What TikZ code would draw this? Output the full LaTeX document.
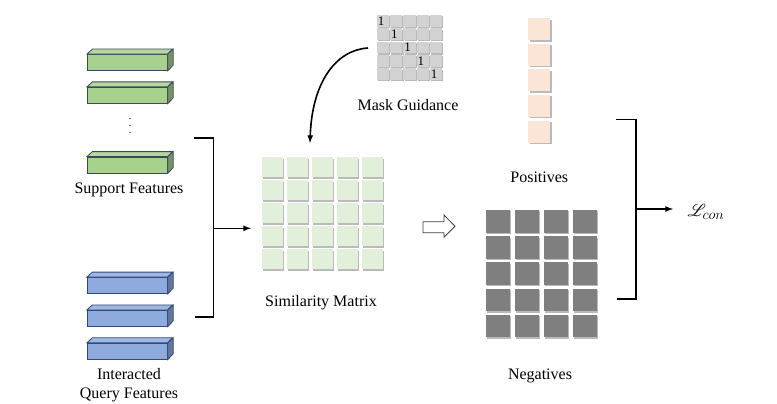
\documentclass[tikz,border=0pt]{standalone}
\usepackage{fontspec}
\setmainfont{Liberation Serif}
\usepackage{mathrsfs}
\usepackage{tikz}
\usetikzlibrary{arrows,shadows,positioning}

\definecolor{supGreen}{HTML}{A9D18E}
\definecolor{qryBlue}{HTML}{8FAADC}
\definecolor{supEdge}{HTML}{3A4A5C}
\definecolor{qryEdge}{HTML}{2F4A7A}
\definecolor{simGreen}{HTML}{E2EFDA}
\definecolor{posPink}{HTML}{FBE5D6}
\definecolor{maskGray}{HTML}{D2D2D2}
\definecolor{negGray}{HTML}{7F7F7F}

\begin{document}
\begin{tikzpicture}[x=1pt, y=-1pt, font=\fontsize{16}{19}\selectfont,
	bar/.style={draw, line width=0.8pt, minimum width=80pt, minimum height=16pt, inner sep=0pt},
	cell/.style={inner sep=0pt, drop shadow={shadow xshift=1.3pt, shadow yshift=-1.3pt, fill=black!60, opacity=0.45}},
	brace/.style={line width=1.6pt},
	conn/.style={-latex, line width=1.6pt}]
	\useasboundingbox (0,0) rectangle (777,404);

	% support features
	\foreach \n/\y in {1/62.5, 2/95.3, 3/165} {
		\node (s\n) [bar, draw=supEdge, fill=supGreen] at (127.3,\y) {};
		\draw [supEdge, line width=0.8pt, fill=supGreen!85!white] (s\n.north west) -- ++(5.5,-5) -- ++(80,0) -- (s\n.north east) -- cycle;
		\draw [supEdge, line width=0.8pt, fill=supGreen!70!black] (s\n.north east) -- ++(5.5,-5) -- ++(0,16) -- (s\n.south east) -- cycle;
	}
	\foreach \k/\y in {1/118.5, 2/125.5, 3/132.5}
		\fill [black!65] (130,\y) circle (0.8pt) coordinate (dot\k);
	\node (slab) at (129,190) {Support Features};

	% query features
	\foreach \n/\y in {1/285.5, 2/318.3, 3/351.2} {
		\node (q\n) [bar, draw=qryEdge, fill=qryBlue] at (127.3,\y) {};
		\draw [qryEdge, line width=0.8pt, fill=qryBlue!85!white] (q\n.north west) -- ++(5.5,-5) -- ++(80,0) -- (q\n.north east) -- cycle;
		\draw [qryEdge, line width=0.8pt, fill=qryBlue!70!black] (q\n.north east) -- ++(5.5,-5) -- ++(0,16) -- (q\n.south east) -- cycle;
	}
	\node (qlab) [align=center] at (129,385) {Interacted\\Query Features};

	% left bracket
	\draw [brace] (194,137.7) -| (213.5,316.7) -- (195,316.7);
	\coordinate (lbr) at (213.5,228.3);
	\coordinate (simin) at (251,228.3);
	\draw [conn] (lbr) -- (simin);

	% similarity matrix
	\foreach \i in {0,...,4}
		\foreach \j in {0,...,4}
			\node (sim-\i-\j) [cell, fill=simGreen, minimum width=21pt, minimum height=20pt] at (272.5+25*\i, 167.3+23*\j) {};
	\node (simlab) at (321,303) {Similarity Matrix};

	% mask guidance
	\foreach \i in {0,...,4}
		\foreach \j in {0,...,4}
			\node (m-\i-\j) [cell, fill=maskGray, minimum width=12.3pt, minimum height=11.7pt] at (382.8+13.3*\i, 20.9+13.3*\j) {};
	\foreach \i in {0,...,4}
		\node [font=\fontsize{13}{13}\selectfont, inner sep=0pt] at ([xshift=-1.8pt]m-\i-\i.center) {1};
	\node (mlab) at (408,105) {Mask Guidance};
	\coordinate (mout) at (368,48);
	\coordinate (simtop) at (310,143);
	\draw [conn] (mout) .. controls (336,50) and (312,82) .. (simtop);

	% hollow arrow
	\draw [line width=0.8pt, draw=black!75, fill=white] (423,221.7) -- (444,221.7) -- (444,215) -- (455,226.3) -- (444,237.3) -- (444,232.7) -- (423,232.7) -- cycle;

	% positives
	\foreach \j in {0,...,4}
		\node (p-\j) [cell, fill=posPink, minimum width=22pt, minimum height=22pt] at (539.3, 29.3+25.6*\j) {};
	\node (plab) at (539.3,177) {Positives};

	% negatives
	\foreach \i in {0,...,3}
		\foreach \j in {0,...,4}
			\node (n-\i-\j) [cell, fill=negGray, minimum width=24pt, minimum height=22.6pt] at (497.7+29*\i, 221.3+26.2*\j) {};
	\node (nlab) at (540,376) {Negatives};

	% right bracket and loss
	\draw [brace] (616,119.3) -| (635.7,298.7) -- (616.7,298.7);
	\coordinate (rbr) at (635.7,209);
	\node (loss) [anchor=west, font=\fontsize{19}{22}\selectfont] at (684,212) {$\mathscr{L}_{con}$};
	\draw [conn, shorten >=11pt] (rbr) -- (rbr -| loss.west);
\end{tikzpicture}
\end{document}
